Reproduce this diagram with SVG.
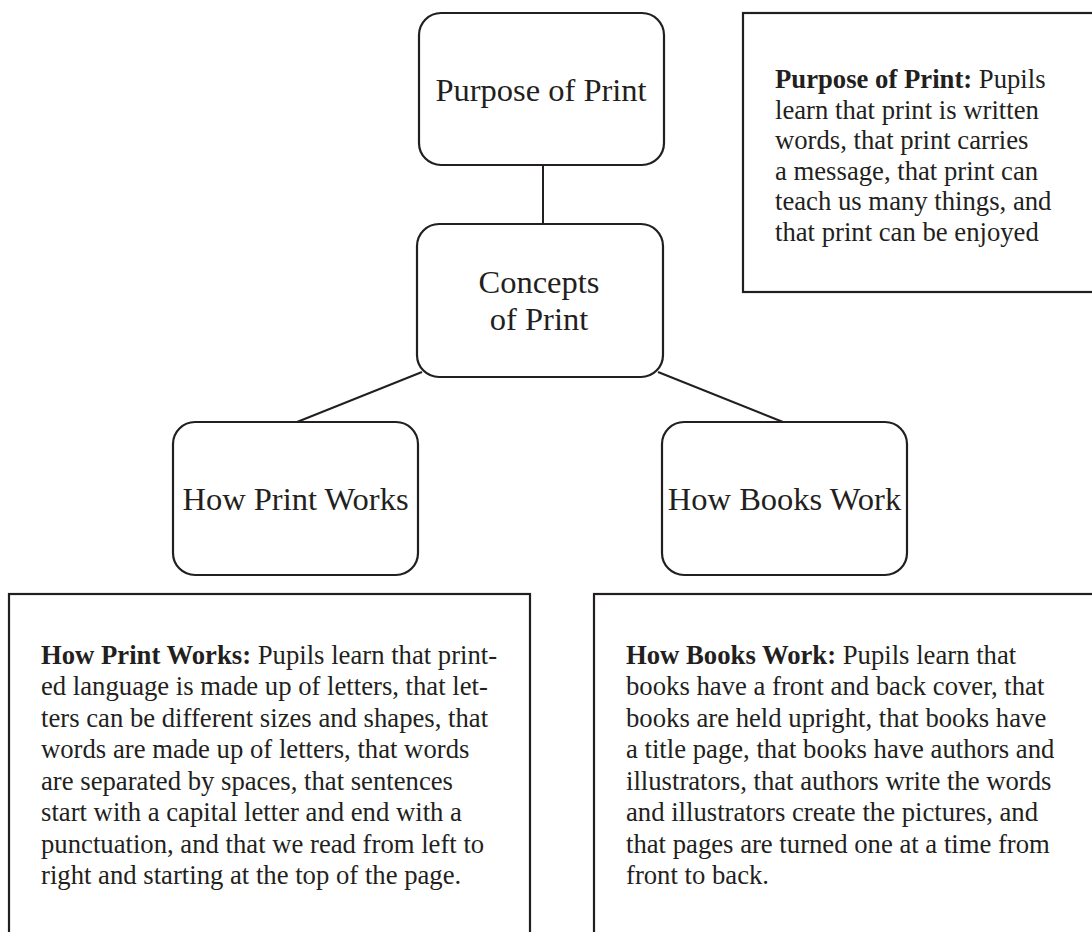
<svg xmlns="http://www.w3.org/2000/svg" width="1092" height="932" viewBox="0 0 1092 932">
  <style>
    .node { fill: #ffffff; stroke: #231f20; stroke-width: 2.2; }
    .panel { fill: #ffffff; stroke: #231f20; stroke-width: 2.2; }
    .link { stroke: #231f20; stroke-width: 2; fill: none; }
    .label { font-family: "Liberation Serif", "Times New Roman", serif; font-size: 32.5px; fill: #231f20; text-anchor: middle; }
    .body { font-family: "Liberation Serif", "Times New Roman", serif; font-size: 26.7px; fill: #231f20; }
    .body .b { font-weight: bold; }
  </style>
  <rect width="1092" height="932" fill="#ffffff"/>

  <!-- connectors -->
  <g id="connectors">
    <line class="link" x1="543" y1="165" x2="543" y2="224"/>
    <line class="link" x1="422" y1="372" x2="297" y2="422"/>
    <line class="link" x1="658" y1="372" x2="783" y2="422"/>
  </g>

  <!-- concept nodes -->
  <g id="purpose-of-print">
    <rect class="node" x="419" y="13" width="245" height="152" rx="22"/>
    <text class="label" x="541" y="101">Purpose of Print</text>
  </g>
  <g id="concepts-of-print">
    <rect class="node" x="417" y="224" width="246" height="153" rx="22"/>
    <text class="label" x="539" y="293">Concepts</text>
    <text class="label" x="539" y="330">of Print</text>
  </g>
  <g id="how-print-works">
    <rect class="node" x="173" y="422" width="245" height="153" rx="22"/>
    <text class="label" x="295.5" y="510">How Print Works</text>
  </g>
  <g id="how-books-work">
    <rect class="node" x="662" y="422" width="245" height="153" rx="22"/>
    <text class="label" x="784.5" y="510">How Books Work</text>
  </g>

  <!-- description panels -->
  <g id="purpose-description">
    <rect class="panel" x="743" y="13" width="400" height="279"/>
    <text class="body">
      <tspan x="775" y="88"><tspan class="b">Purpose of Print:</tspan> Pupils</tspan>
      <tspan x="775" y="118.5">learn that print is written</tspan>
      <tspan x="775" y="149">words, that print carries</tspan>
      <tspan x="775" y="179.5">a message, that print can</tspan>
      <tspan x="775" y="210">teach us many things, and</tspan>
      <tspan x="775" y="240.5">that print can be enjoyed</tspan>
    </text>
  </g>
  <g id="print-description">
    <rect class="panel" x="9" y="594" width="521" height="360"/>
    <text class="body">
      <tspan x="41" y="663.5"><tspan class="b">How Print Works:</tspan> Pupils learn that print-</tspan>
      <tspan x="41" y="695">ed language is made up of letters, that let-</tspan>
      <tspan x="41" y="726.5">ters can be different sizes and shapes, that</tspan>
      <tspan x="41" y="758">words are made up of letters, that words</tspan>
      <tspan x="41" y="789.5">are separated by spaces, that sentences</tspan>
      <tspan x="41" y="821">start with a capital letter and end with a</tspan>
      <tspan x="41" y="852.5">punctuation, and that we read from left to</tspan>
      <tspan x="41" y="884">right and starting at the top of the page.</tspan>
    </text>
  </g>
  <g id="books-description">
    <rect class="panel" x="594" y="594" width="560" height="360"/>
    <text class="body">
      <tspan x="626" y="663.5"><tspan class="b">How Books Work:</tspan> Pupils learn that</tspan>
      <tspan x="626" y="695">books have a front and back cover, that</tspan>
      <tspan x="626" y="726.5">books are held upright, that books have</tspan>
      <tspan x="626" y="758">a title page, that books have authors and</tspan>
      <tspan x="626" y="789.5">illustrators, that authors write the words</tspan>
      <tspan x="626" y="821">and illustrators create the pictures, and</tspan>
      <tspan x="626" y="852.5">that pages are turned one at a time from</tspan>
      <tspan x="626" y="884">front to back.</tspan>
    </text>
  </g>
</svg>
